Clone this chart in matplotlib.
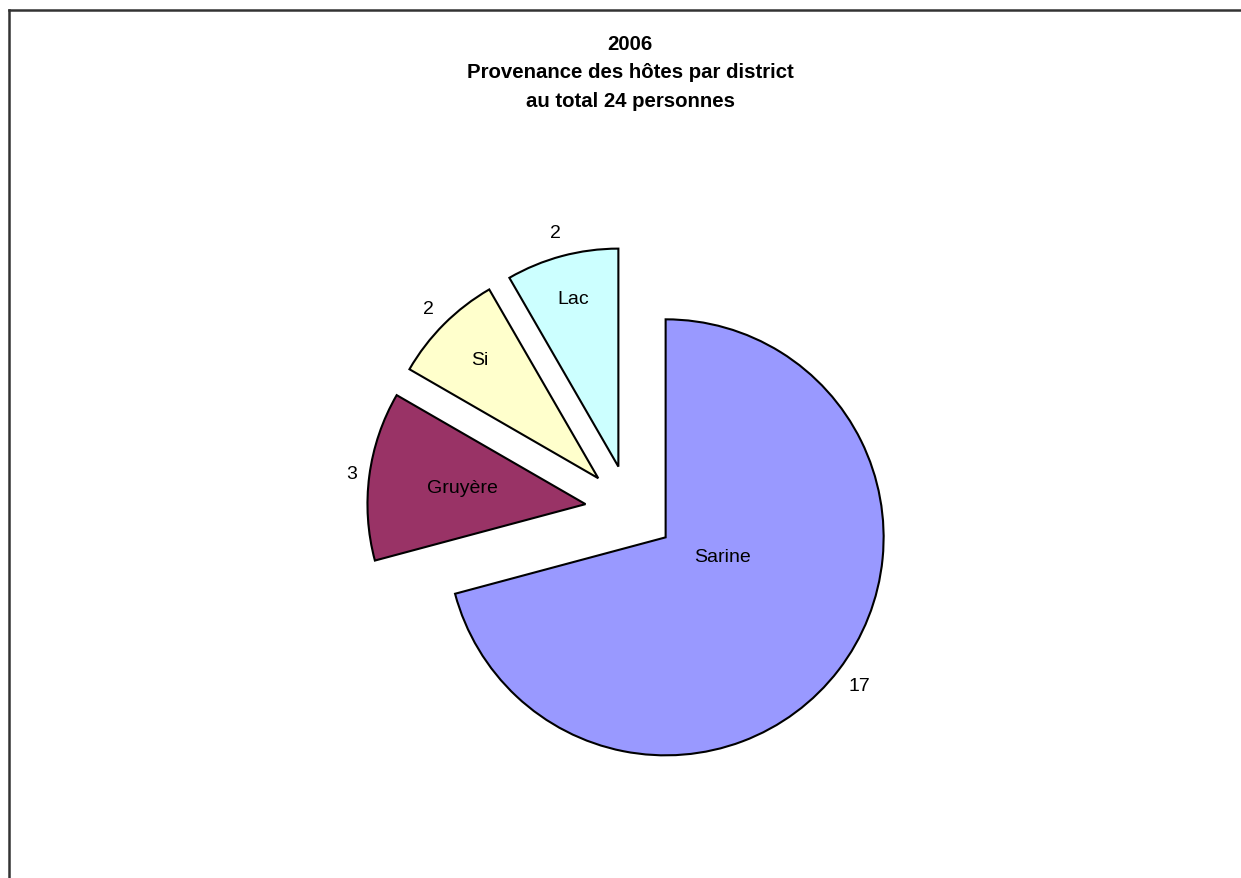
import matplotlib.pyplot as plt
from matplotlib.lines import Line2D
import numpy as np

plt.rcParams['font.family'] = ['Liberation Sans', 'DejaVu Sans']

districts = ["Sarine", "Gruyère", "Si", "Lac"]
counts = [17, 3, 2, 2]
colors = ["#9999FF", "#993366", "#FFFFCC", "#CCFFFF"]
explode = [0.206] * 4
# where the district names sit inside each wedge (radius fraction, angle shift)
name_dist = [0.276, 0.57, 0.77, 0.80]
name_shift = [19, 0, 0, 0]
value_dist = [1.12, 1.08, 1.10, 1.11]

W, H = 1241, 879
fig = plt.figure(figsize=(W / 100, H / 100), dpi=100)
ax = fig.add_axes([0, 0, 1, 1])

wedges, _ = ax.pie(counts, colors=colors, explode=explode, startangle=90,
                   counterclock=False, radius=1,
                   wedgeprops=dict(edgecolor="black", linewidth=1.5))

for w, name, n, d, s, vd in zip(wedges, districts, counts, name_dist, name_shift, value_dist):
    mid = (w.theta1 + w.theta2) / 2
    cx, cy = w.center
    a = np.deg2rad(mid + s)
    ax.text(cx + d * np.cos(a), cy + d * np.sin(a), name,
            ha="center", va="center", fontsize=14)
    a = np.deg2rad(mid)
    ax.text(cx + vd * np.cos(a), cy + vd * np.sin(a), str(n),
            ha="center", va="center", fontsize=14)

# pie centre at pixel (630, 511), radius 218 px
px = 218
ax.set_xlim(-630 / px, (W - 630) / px)
ax.set_ylim(-(H - 511) / px, 511 / px)
ax.set_aspect("auto")
ax.axis("off")

fig.text(630 / W, 1 - 73 / H,
         "2006\nProvenance des hôtes par district\nau total 24 personnes",
         ha="center", va="center", fontsize=14.7, fontweight="bold",
         linespacing=1.62)

# outer frame (cropped at right and bottom)
fig.add_artist(Line2D([9 / W, 1], [1 - 11 / H, 1 - 11 / H], color="#333333", lw=1.8))
fig.add_artist(Line2D([9 / W, 9 / W], [0, 1 - 11 / H], color="#333333", lw=1.8))

fig.savefig("out.png", dpi=100)
